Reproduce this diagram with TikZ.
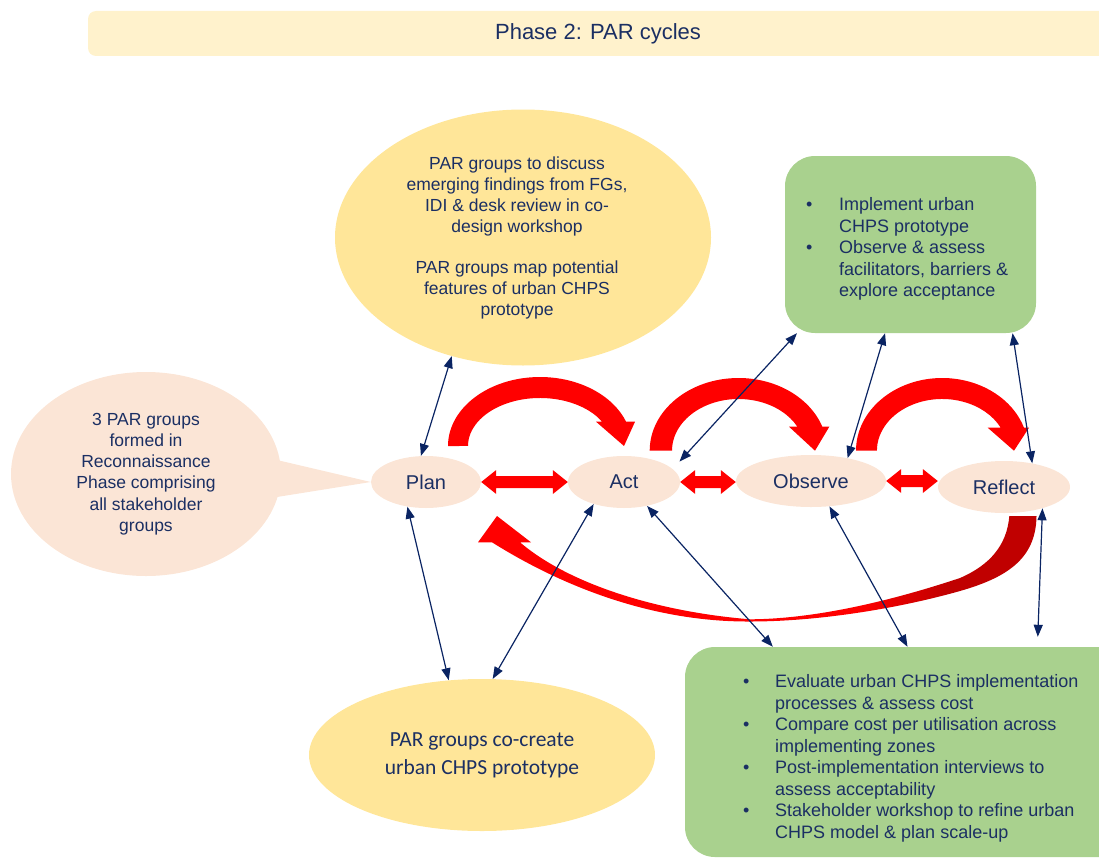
\documentclass[tikz,border=0pt]{standalone}
\usepackage{fontspec}
\setmainfont{Liberation Sans}
\newfontfamily\calib{Carlito}
\usetikzlibrary{arrows.meta,shapes.geometric,calc}
\definecolor{navy}{HTML}{1B2F63}
\definecolor{arrnavy}{HTML}{0A2463}
\definecolor{peach}{HTML}{FBE5D6}
\definecolor{ylw}{HTML}{FFE699}
\definecolor{banner}{HTML}{FFF2CC}
\definecolor{grn}{HTML}{A9D18E}
\definecolor{dred}{HTML}{C00000}
\pgfdeclarehorizontalshading{retshade}{100bp}{color(0bp)=(red); color(59bp)=(red); color(67bp)=(dred); color(100bp)=(dred)}
\tikzset{
  txt/.style={text=navy},
  bodyfont/.style={font=\fontsize{18}{21.5}\selectfont},
  ellfont/.style={font=\fontsize{17.5}{21.2}\selectfont},
  stagefont/.style={font=\fontsize{20}{24}\selectfont},
  peachell/.style={ellipse, inner sep=0pt, fill=peach},
  ylwell/.style={ellipse, inner sep=0pt, fill=ylw},
  greenbox/.style={rectangle, rounded corners=30pt, fill=grn, inner sep=0pt},
  link/.style={draw=arrnavy, line width=1.2pt,
     {Triangle[width=9pt 0 0,length=12pt 0 0]}-{Triangle[width=9pt 0 0,length=12pt 0 0]}},
  cycfill/.style={fill=red},
}
\newcommand\blockpair[2]{%
  \fill[red] (#1) -- ++(15,-12) -- ++(0,6) -- ($(#2)+(-15,-6)$) -- ++(0,-6) -- (#2)
    -- ++(-15,12) -- ++(0,-6) -- ($(#1)+(15,6)$) -- ++(0,6) -- cycle;}
\begin{document}
\begin{tikzpicture}[x=1pt,y=-1pt]
\useasboundingbox (0,0) rectangle (1099,859);
% banner
\fill[banner, rounded corners=8pt] (88,11) rectangle (1130,56);
\node[txt, font=\fontsize{22}{26}\selectfont] (title) at (598,34) {Phase 2: PAR cycles};

% stage nodes
\node[peachell, txt, stagefont, minimum width=110pt, minimum height=52pt] (plan) at (426,482) {Plan};
\node[peachell, txt, stagefont, minimum width=112pt, minimum height=52pt] (act) at (624,482) {Act};
\node[peachell, txt, stagefont, minimum width=150pt, minimum height=52pt] (obs) at (811,481) {Observe};
\node[peachell, txt, stagefont, minimum width=132pt, minimum height=52pt] (refl) at (1004,487) {Reflect};

% left callout
\fill[peach] (277,460) -- (plan.west) -- (277,497) -- cycle;
\node[peachell, txt, ellfont, align=center, minimum width=270pt, minimum height=204pt] (leftell) at (146,474)
  {3 PAR groups\\formed in\\Reconnaissance\\Phase comprising\\all stakeholder\\groups};

% top yellow ellipse
\node[ylwell, minimum width=376pt, minimum height=256pt] (topell) at (523,237.5) {};
\node[txt, ellfont, align=center] (toptext) at (517,238)
  {PAR groups to discuss\\emerging findings from FGs,\\IDI \& desk review in co-\\design workshop\\[19.5pt]PAR groups map potential\\features of urban CHPS\\prototype};

% bottom yellow ellipse
\node[ylwell, txt, align=center, font=\calib\fontsize{21.5}{28}\selectfont, minimum width=346pt, minimum height=152pt] (botell) at (482,755)
  {PAR groups co-create\\urban CHPS prototype};

% green boxes
\node[greenbox, minimum width=251pt, minimum height=177pt] (gtop) at (910.5,244.5) {};
\node[txt, bodyfont, anchor=north west, inner sep=0pt] (gtoptext) at (806,195.5)
  {\begin{tabular}{@{}p{33pt}@{}l@{}}
   \textbullet & Implement urban\\
    & CHPS prototype\\
   \textbullet & Observe \& assess\\
    & facilitators, barriers \&\\
    & explore acceptance
   \end{tabular}};
\node[greenbox, minimum width=445pt, minimum height=210pt] (gbot) at (907.5,752) {};
\node[txt, bodyfont, anchor=north west, inner sep=0pt] (gbottext) at (743,672.5)
  {\begin{tabular}{@{}p{32pt}@{}l@{}}
   \textbullet & Evaluate urban CHPS implementation\\
    & processes \& assess cost\\
   \textbullet & Compare cost per utilisation across\\
    & implementing zones\\
   \textbullet & Post-implementation interviews to\\
    & assess acceptability\\
   \textbullet & Stakeholder workshop to refine urban\\
    & CHPS model \& plan scale-up
   \end{tabular}};

% curved cycle arrows
\fill[cycfill] (448,446) arc[start angle=180, end angle=339.4, x radius=92, y radius=69]
  -- (635,421.7) -- (624,446) -- (596,421.7) -- (602.1,421.7)
  arc[start angle=329.6, end angle=180, x radius=72, y radius=48] -- cycle;
\fill[cycfill] (649.7,450.7) arc[start angle=180, end angle=340.7, x radius=88.8, y radius=72.7]
  -- (829.3,426.7) -- (815,450.7) -- (789,426.7) -- (797.4,426.7)
  arc[start angle=332.35, end angle=180, x radius=66.5, y radius=51.7] -- cycle;
\fill[cycfill] (856,450.7) arc[start angle=180, end angle=341.56, x radius=86.2, y radius=72.7]
  -- (1029,427.7) -- (1014,450.7) -- (987.7,427.7) -- (1000.7,427.7)
  arc[start angle=333.6, end angle=180, x radius=65.3, y radius=51.7] -- cycle;

% big return arrow
\shade[shading=retshade]
  (1036.5,516) .. controls (1036,560) and (1005,578) .. (960,591)
  .. controls (900,608) and (820,621.5) .. (750,621.5)
  .. controls (650,622) and (560,585) .. (492,542.3)
  -- (478,542.3) -- (497,516) -- (531,542.3) -- (520,542.3)
  .. controls (570,585) and (660,612) .. (750,619.3)
  .. controls (820,619) and (900,598) .. (960,578)
  .. controls (990,565) and (1007,545) .. (1009.3,516) -- cycle;

% block double arrows
\blockpair{plan.east}{act.west}
\blockpair{act.east}{obs.west |- act.east}
\blockpair{obs.east}{refl.west |- obs.east}

% navy links
\draw[link] (plan.101) -- (topell.239.6);
\draw[link] (plan.233.5) -- (botell.114.6);
\draw[link] (act.216.9) -- (botell.82);
\draw[link, shorten <=10pt] (act.15) -- (gtop.218.9);
\draw[link] (act.314) -- (gbot.142);
\draw[link] (obs.32.3) -- (gtop.254.5);
\draw[link] (obs.306) -- (gbot.90);
\draw[link] (refl.40.2) -- (gtop.319.7);
\draw[link, shorten >=10pt] (refl.331) -- (gbot.39.5);
\end{tikzpicture}
\end{document}
